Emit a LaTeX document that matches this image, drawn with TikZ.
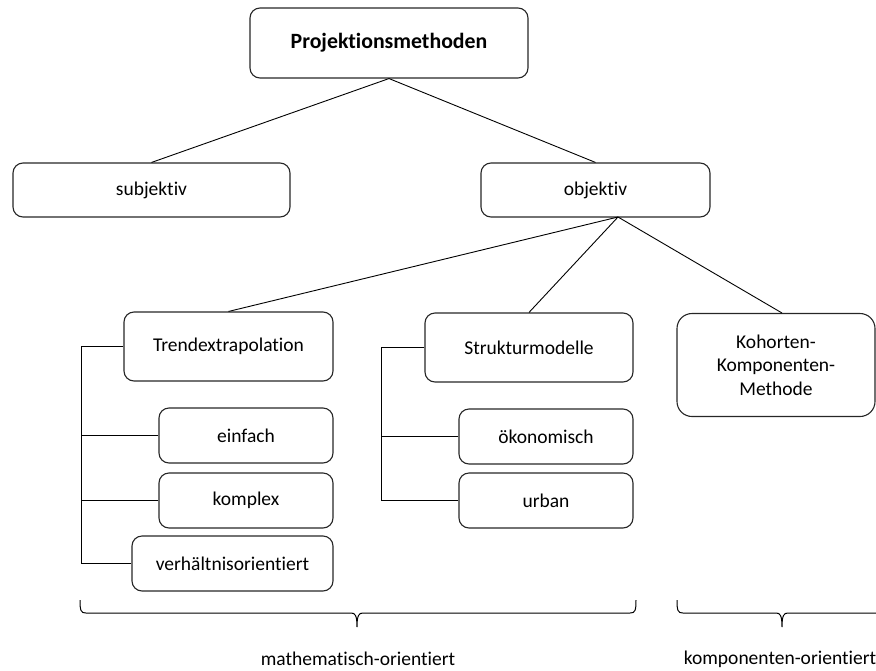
\documentclass[tikz,border=0pt]{standalone}
\usepackage{fontspec}
\setmainfont{Carlito}[Ligatures=NoCommon]
\begin{document}
\begin{tikzpicture}[x=1pt,y=-1pt,
  box/.style={draw=black!85, line width=1.1pt, rounded corners=10pt, inner sep=0pt,
    align=center, font=\fontsize{19.5}{23.5}\selectfont},
  conn/.style={draw=black, line width=0.9pt},
  brace/.style={draw=black, line width=1pt},
  lbl/.style={font=\fontsize{19.5}{23.5}\selectfont, inner sep=0pt}]
\useasboundingbox (0,0) rectangle (876,670);
% boxes
\node[box, minimum width=278, minimum height=70, font=\fontsize{21.8}{26}\selectfont\bfseries] (top) at (389,43) {Projektionsmethoden};
\node[box, minimum width=277, minimum height=54] (subj) at (151.5,190) {subjektiv};
\node[box, minimum width=229, minimum height=54] (obj) at (595.5,190) {objektiv};
\node[box, minimum width=209, minimum height=69] (trend) at (228.5,346.5) {Trendextrapolation};
\node[box, minimum width=174, minimum height=55] (einfach) at (246,435.5) {einfach};
\node[box, minimum width=174, minimum height=55] (komplex) at (246,500.5) {komplex};
\node[box, minimum width=201, minimum height=55] (verh) at (232.5,563.5) {verhältnisorientiert};
\node[box, minimum width=208, minimum height=69] (struk) at (529,347.5) {Strukturmodelle};
\node[box, minimum width=174, minimum height=55] (oekon) at (546,436.5) {ökonomisch};
\node[box, minimum width=174, minimum height=55] (urban) at (546,500.5) {urban};
\node[box, minimum width=198, minimum height=103, rounded corners=15pt] (kohort) at (776,365) {Kohorten-\\Komponenten-\\Methode};
% connectors
\draw[conn] (top.south) -- (subj.north);
\draw[conn] (top.south) -- (obj.north);
\coordinate (of) at (618,217);
\coordinate (kn) at (782,313);
\draw[conn] (of) -- (trend.north);
\draw[conn] (of) -- (struk.north);
\draw[conn] (of) -- (kn);
% tree lines
\coordinate (tx) at (81,0);
\coordinate (sx) at (381,0);
\draw[conn] (trend.west) -- (trend.west -| tx) |- (verh.west);
\draw[conn] (einfach.west) -- (einfach.west -| tx);
\draw[conn] (komplex.west) -- (komplex.west -| tx);
\draw[conn] (struk.west) -- (struk.west -| sx) |- (urban.west);
\draw[conn] (oekon.west) -- (oekon.west -| sx);
% braces
\draw[brace] (80,600) .. controls (80,611) and (81,613) .. (86,613) -- (351,613)
  .. controls (355,613) and (357,615) .. (357,627)
  .. controls (357,615) and (359,613) .. (363,613) -- (630,613)
  .. controls (635,613) and (636,611) .. (636,600);
\draw[brace] (677,600) .. controls (677,611) and (678,613) .. (683,613) -- (776,613)
  .. controls (780,613) and (782,615) .. (782,627)
  .. controls (782,615) and (784,613) .. (788,613) -- (880,613);
% labels
\node[lbl] (lm) at (358,659) {mathematisch-orientiert};
\node[lbl] (lk) at (780,659) {komponenten-orientiert};
\end{tikzpicture}
\end{document}
